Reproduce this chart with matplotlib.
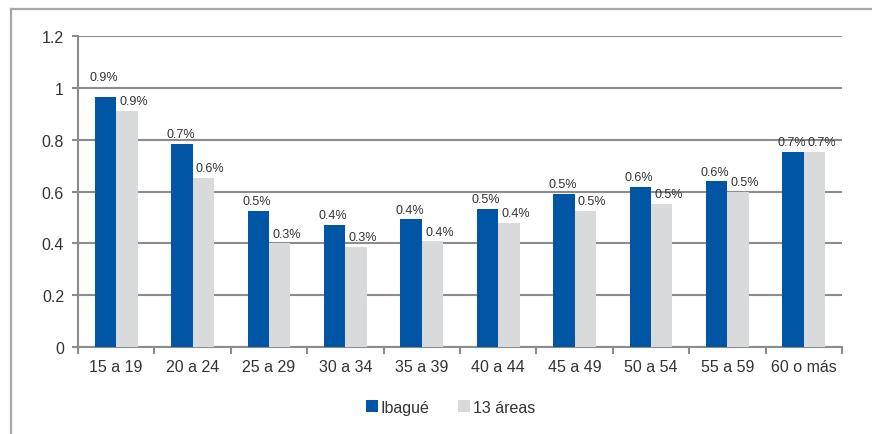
import matplotlib.pyplot as plt
import numpy as np
from matplotlib.lines import Line2D

categories = ['15 a 19', '20 a 24', '25 a 29', '30 a 34', '35 a 39',
              '40 a 44', '45 a 49', '50 a 54', '55 a 59', '60 o más']
ibague = [0.965, 0.784, 0.525, 0.471, 0.494, 0.533, 0.591, 0.619, 0.640, 0.754]
areas13 = [0.911, 0.653, 0.400, 0.386, 0.409, 0.479, 0.526, 0.552, 0.600, 0.754]
ibague_labels = ['0.9%', '0.7%', '0.5%', '0.4%', '0.4%', '0.5%', '0.5%', '0.6%', '0.6%', '0.7%']
areas13_labels = ['0.9%', '0.6%', '0.3%', '0.3%', '0.4%', '0.4%', '0.5%', '0.5%', '0.5%', '0.7%']
yticks = [0, 0.2, 0.4, 0.6, 0.8, 1, 1.2]
ytick_labels = ['0', '0.2', '0.4', '0.6', '0.8', '1', '1.2']

plt.rcParams['font.family'] = ['Liberation Sans', 'DejaVu Sans']
text_color = '#333333'
line_color = '#8c8c8c'

fig = plt.figure(figsize=(8.72, 4.35), dpi=100)
ax = fig.add_axes([0.0894, 0.2, 0.8762, 0.7149])

# outer frame (top and left visible)
fig.add_artist(Line2D([11/872, 1], [1 - 10/435, 1 - 10/435], color='#a8a8a8', lw=1.6))
fig.add_artist(Line2D([11/872, 11/872], [0, 1 - 10/435], color='#a8a8a8', lw=1.6))

x = np.arange(len(categories))
w = 0.28
b1 = ax.bar(x - w/2, ibague, w, color='#0055a5', label='Ibagué', zorder=3)
b2 = ax.bar(x + w/2, areas13, w, color='#d9dadc', label='13 áreas', zorder=3)

for i, rect in enumerate(b1):
    off = 10 if i == 0 else 2.5
    ax.annotate(ibague_labels[i], (rect.get_x() + rect.get_width()/2, rect.get_height()),
                xytext=(-1, off), textcoords='offset points', ha='center', va='bottom',
                fontsize=9, color=text_color)
for i, rect in enumerate(b2):
    ax.annotate(areas13_labels[i], (rect.get_x() + rect.get_width()/2, rect.get_height()),
                xytext=(5, 2.5), textcoords='offset points', ha='center', va='bottom',
                fontsize=9, color=text_color)

ax.set_ylim(0, 1.2)
ax.set_xlim(-0.5, len(categories) - 0.5)
ax.set_yticks(yticks)
ax.set_yticklabels(ytick_labels)
ax.set_xticks(x)
ax.set_xticklabels(categories)
ax.set_xticks(np.arange(len(categories) + 1) - 0.5, minor=True)
ax.tick_params(axis='x', which='major', length=0, pad=9, labelsize=11.5, labelcolor=text_color)
ax.tick_params(axis='x', which='minor', length=5, width=1.5, color=line_color)
ax.tick_params(axis='y', length=4, width=1.5, color=line_color, pad=6,
               labelsize=11.5, labelcolor=text_color)

ax.yaxis.grid(True, color=line_color, lw=1.5, zorder=0)
for s in ['top', 'right']:
    ax.spines[s].set_visible(False)
for s in ['left', 'bottom']:
    ax.spines[s].set_color(line_color)
    ax.spines[s].set_linewidth(1.5)

ax.legend(loc='center', bbox_to_anchor=(0.488, -0.193), ncol=2, frameon=False,
          fontsize=11.5, handlelength=0.7, handleheight=0.7, handletextpad=0.2,
          columnspacing=1.8, labelcolor=text_color)

fig.savefig('out.png', dpi=100)
